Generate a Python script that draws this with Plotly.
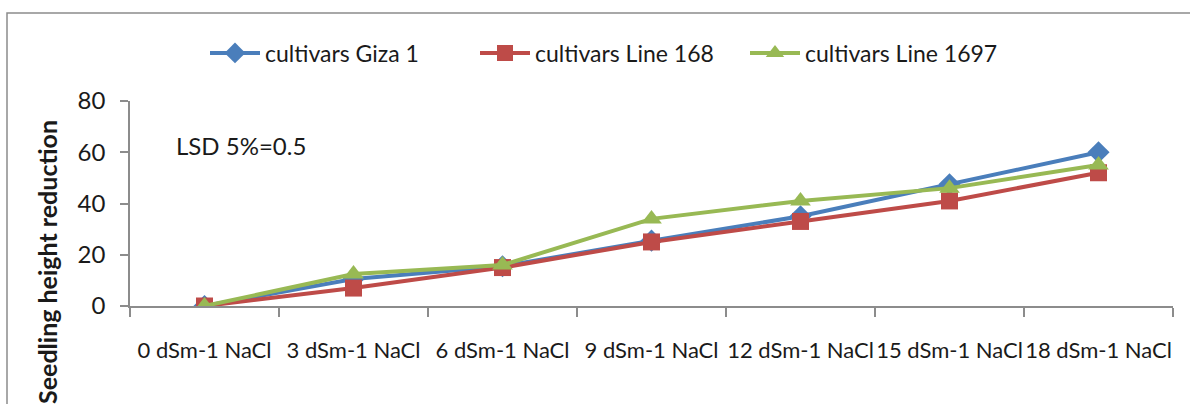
import plotly.graph_objects as go

# Salinity treatments (x categories)
categories = ["0 dSm-1 NaCl", "3 dSm-1 NaCl", "6 dSm-1 NaCl", "9 dSm-1 NaCl",
              "12 dSm-1 NaCl", "15 dSm-1 NaCl", "18 dSm-1 NaCl"]

# Seedling height reduction per cultivar
giza_1 = [0, 10.5, 15.5, 25.5, 35, 47.5, 60]
line_168 = [0, 7, 15, 25, 33, 41, 52]
line_1697 = [0, 12.5, 16, 34, 41, 46, 55]

y_ticks = [0, 20, 40, 60, 80]

W, H = 1190, 404
L, R, T, B = 130, 17, 101, 98
FONT = "Lato, sans-serif"

fig = go.Figure()
series = [
    ("cultivars Giza 1", giza_1, "#4a7ebb", "diamond", 17),
    ("cultivars Line 168", line_168, "#be4b48", "square", 17),
    ("cultivars Line 1697", line_1697, "#98b954", "triangle-up", 18),
]
for name, vals, color, sym, size in series:
    fig.add_trace(go.Scatter(
        x=categories, y=vals, name=name, mode="lines+markers",
        line=dict(color=color, width=4),
        marker=dict(symbol=sym, size=size, color=color),
    ))

pw = W - L - R
ph = H - T - B
# Outer chart frame
fig.add_shape(type="rect", xref="paper", yref="paper",
              x0=(7 - L) / pw, x1=(W + 20 - L) / pw,
              y0=-(H + 20 - (H - B)) / ph, y1=(H - B - 13) / ph,
              line=dict(color="#8c8c8c", width=1.5), fillcolor="rgba(0,0,0,0)")

fig.add_annotation(x=(174 - L) / pw, y=(H - B - 145) / ph, xref="paper", yref="paper",
                   text="LSD 5%=0.5", showarrow=False, xanchor="left", yanchor="middle",
                   font=dict(family=FONT, size=24, color="#1a1a1a"))

fig.add_annotation(x=(47 - L) / pw, y=(H - B - 262) / ph, xref="paper", yref="paper",
                   text="<b>Seedling height reduction</b>", showarrow=False, textangle=-90,
                   xanchor="center", yanchor="middle",
                   font=dict(family=FONT, size=25, color="#1a1a1a"))

fig.update_layout(
    width=W, height=H,
    margin=dict(l=L, r=R, t=T, b=B),
    paper_bgcolor="white", plot_bgcolor="white",
    font=dict(family=FONT, size=22, color="#1a1a1a"),
    showlegend=True,
    legend=dict(orientation="h", x=(205 - L) / pw, xanchor="left", y=(H - B - 53) / ph,
                yanchor="middle", font=dict(family=FONT, size=23),
                itemwidth=50, tracegroupgap=0, entrywidth=205),
    xaxis=dict(type="category", range=[-0.5, 6.5], showgrid=False, zeroline=False,
               showline=True, linecolor="#8c8c8c", linewidth=1.5,
               ticks="outside", tickson="boundaries", ticklen=9, tickcolor="#8c8c8c",
               tickwidth=1.5, ticklabelstandoff=24, tickangle=0, automargin=False,
               tickfont=dict(family=FONT, size=22)),
    yaxis=dict(range=[0, 80], tickvals=y_ticks, showgrid=False, zeroline=False,
               showline=True, linecolor="#8c8c8c", linewidth=1.5,
               ticks="outside", ticklen=8, tickcolor="#8c8c8c", tickwidth=1.5,
               ticklabelstandoff=10, automargin=False, tickfont=dict(family=FONT, size=24)),
)

fig.write_html("out.html")
